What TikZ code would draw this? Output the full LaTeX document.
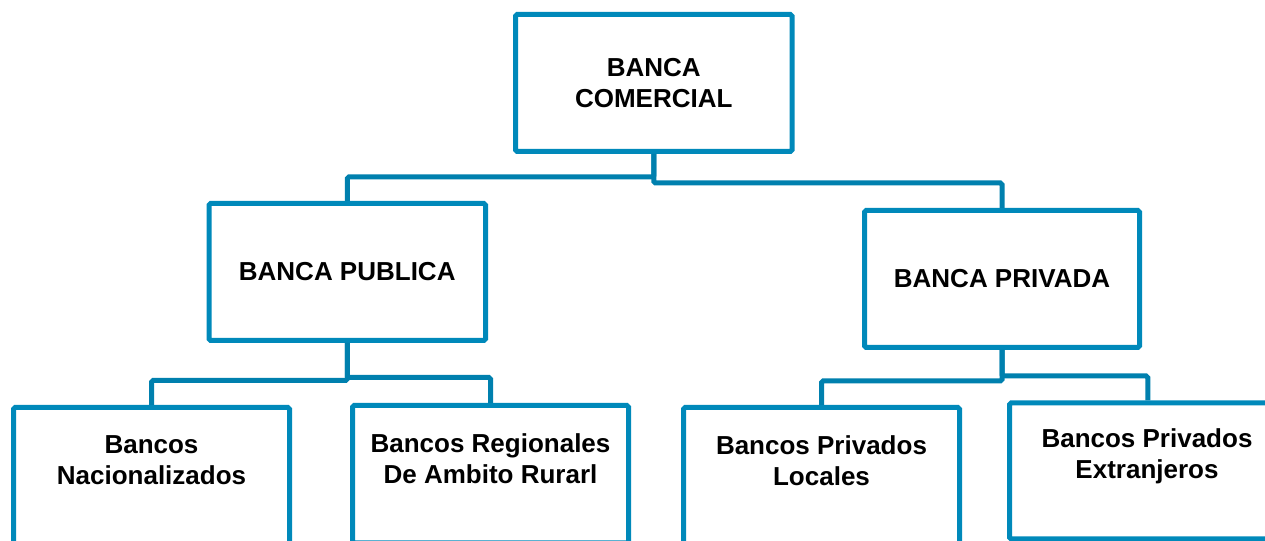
\documentclass[tikz,border=0pt]{standalone}
\usepackage{fontspec}
\setmainfont{Liberation Sans}
\definecolor{boxblue}{RGB}{0,137,186}
\definecolor{linkblue}{RGB}{0,128,174}
\begin{document}
\begin{tikzpicture}[x=0.75pt,y=-0.75pt,
  orgbox/.style={draw=boxblue, line width=3.75pt, rectangle, rounded corners=1.2pt, inner sep=0pt, fill=white},
  orgtext/.style={font=\bfseries\fontsize{19.5}{23.4}\selectfont, align=center, inner sep=0pt, text=black},
  link/.style={draw=linkblue, line width=3.75pt, rounded corners=1.2pt}]
\useasboundingbox (0,0) rectangle (1265,541);
\clip (0,0) rectangle (1265,541);
% boxes
\node[orgbox, minimum width=276.5*0.75pt, minimum height=137*0.75pt] (T) at (653.75,83) {};
\node[orgbox, minimum width=276.5*0.75pt, minimum height=137*0.75pt] (L) at (347.25,272) {};
\node[orgbox, minimum width=275*0.75pt, minimum height=137*0.75pt] (R) at (1002,279) {};
\node[orgbox, minimum width=276*0.75pt, minimum height=137.5*0.75pt] (B1) at (151.5,476.25) {};
\node[orgbox, minimum width=276*0.75pt, minimum height=137.5*0.75pt] (B2) at (490.5,474.25) {};
\node[orgbox, minimum width=276*0.75pt, minimum height=137.5*0.75pt] (B3) at (821.5,476.25) {};
\node[orgbox, minimum width=276.5*0.75pt, minimum height=136*0.75pt] (B4) at (1147.75,471) {};
% texts
\node[orgtext] (tT) at (T.center) {BANCA\\COMERCIAL};
\node[orgtext] (tL) at (L.center) {BANCA PUBLICA};
\node[orgtext] (tR) at (R.center) {BANCA PRIVADA};
\node[orgtext] (t1) at (151.5,460.5) {Bancos\\Nacionalizados};
\node[orgtext] (t2) at (490.5,459) {Bancos Regionales\\De Ambito Rurarl};
\node[orgtext] (t3) at (821.5,461) {Bancos Privados\\Locales};
\node[orgtext] (t4) at (1147,456.5) {Bancos Privados\\Extranjeros};
% connectors
\draw[link] (T.south) -- ++(0,23) -| (L.north);
\draw[link] (T.south) -- ++(0,29) -| (R.north);
\draw[link] (L.south) -- ++(0,37.5) -| (B1.north);
\draw[link] (L.south) -- ++(0,34.5) -| (B2.north);
\draw[link] (R.south) -- ++(0,31) -| (B3.north);
\draw[link] (R.south) -- ++(0,26) -| (B4.north);
\end{tikzpicture}
\end{document}
